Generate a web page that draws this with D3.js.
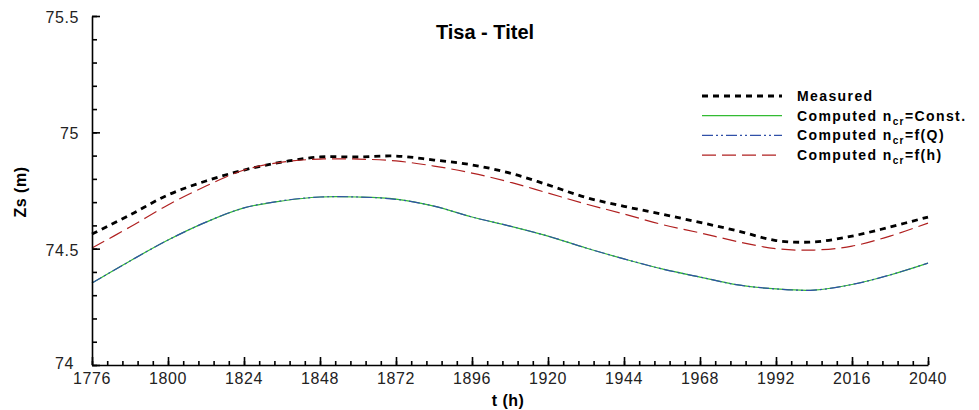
<!DOCTYPE html>
<meta charset="utf-8">
<title>Tisa - Titel</title>
<style>

body {
  margin: 0;
  background: #fff;
}

text {
  font-family: Arial, "Liberation Sans", sans-serif;
}

.tick-label {
  font-size: 16px;
  fill: #222;
  letter-spacing: 0.6px;
}

.legend text {
  font-size: 14px;
  font-weight: bold;
  letter-spacing: 1.4px;
}

</style>
<body>
<script src="https://d3js.org/d3.v7.min.js"></script>
<script>

// time (h), one point every 12 h
var hours = d3.range(23).map(function(i) { return 1776 + i * 12; });

var measured = [74.563, 74.645, 74.731, 74.791, 74.838, 74.872, 74.894, 74.894, 74.898, 74.881,
  74.860, 74.825, 74.774, 74.720, 74.682, 74.648, 74.613, 74.576, 74.535, 74.529, 74.554, 74.593, 74.636];

var nConst = [74.352, 74.447, 74.537, 74.614, 74.675, 74.705, 74.722, 74.722, 74.713, 74.683,
  74.636, 74.597, 74.554, 74.503, 74.456, 74.413, 74.378, 74.344, 74.327, 74.322, 74.346, 74.387, 74.438];

var nQ = [74.352, 74.447, 74.537, 74.614, 74.675, 74.706, 74.722, 74.722, 74.712, 74.683,
  74.636, 74.597, 74.554, 74.503, 74.456, 74.413, 74.378, 74.344, 74.327, 74.322, 74.346, 74.387, 74.438];

var nH = [74.503, 74.593, 74.688, 74.769, 74.838, 74.872, 74.885, 74.885, 74.877, 74.855,
  74.825, 74.786, 74.739, 74.692, 74.649, 74.604, 74.568, 74.530, 74.500, 74.494, 74.511, 74.554, 74.610];

var xTicks = d3.range(1776, 2041, 24);
var yTicks = [74, 74.5, 75, 75.5];

var series = [
  {name: "Measured", sub: null, values: measured, color: "#000", width: 2.8, dash: "6,5"},
  {name: "Computed n", sub: "cr", rest: "=Const.", values: nConst, color: "#33bb33", width: 1.2, dash: null},
  {name: "Computed n", sub: "cr", rest: "=f(Q)", values: nQ, color: "#3050a8", width: 1.2, dash: "11,3,2,3,2,3"},
  {name: "Computed n", sub: "cr", rest: "=f(h)", values: nH, color: "#b02020", width: 1.2, dash: "14,6"}
];

var w = 979,
    h = 410;

var x = d3.scaleLinear().domain([1776, 2040]).range([92, 928]);
var y = d3.scaleLinear().domain([74, 75.5]).range([365, 16]);

var svg = d3.select("body").append("svg")
    .attr("width", w)
    .attr("height", h);

// curves
var line = d3.line()
    .x(function(d, i) { return x(hours[i]); })
    .y(function(d) { return y(d); })
    .curve(d3.curveCatmullRom.alpha(0.5));

svg.selectAll(".series")
    .data(series)
  .enter().append("path")
    .attr("class", "series")
    .attr("d", function(d) { return line(d.values); })
    .attr("fill", "none")
    .attr("stroke", function(d) { return d.color; })
    .attr("stroke-width", function(d) { return d.width; })
    .attr("stroke-dasharray", function(d) { return d.dash; });

// axes, ticks pointing inward
var xMinor = d3.range(56).map(function(i) { return 1776 + i * 4.8; });
var yMinor = d3.range(16).map(function(i) { return 74 + i * 0.1; });

svg.append("g")
    .attr("transform", "translate(0,365)")
    .call(d3.axisTop(x).tickValues(xMinor).tickSize(4).tickFormat(""))
    .call(function(g) { g.select(".domain").remove(); });

svg.append("g")
    .attr("transform", "translate(0,365)")
    .call(d3.axisTop(x).tickValues(xTicks).tickSize(8).tickSizeOuter(0).tickFormat(""));

svg.append("g")
    .attr("transform", "translate(92,0)")
    .call(d3.axisRight(y).tickValues(yMinor).tickSize(5).tickFormat(""))
    .call(function(g) { g.select(".domain").remove(); });

svg.append("g")
    .attr("transform", "translate(92,0)")
    .call(d3.axisRight(y).tickValues(yTicks).tickSize(8).tickSizeOuter(0).tickFormat(""));

svg.selectAll(".domain, .tick line")
    .attr("stroke", "#000")
    .attr("stroke-width", 1.6);

// tick labels
svg.selectAll(".xlab")
    .data(xTicks)
  .enter().append("text")
    .attr("class", "tick-label")
    .attr("x", function(d) { return x(d); })
    .attr("y", 384)
    .attr("text-anchor", "middle")
    .text(function(d) { return d; });

svg.selectAll(".ylab")
    .data(yTicks.slice(1))
  .enter().append("text")
    .attr("class", "tick-label")
    .attr("x", 79)
    .attr("y", function(d) { return y(d) + 7; })
    .attr("text-anchor", "end")
    .text(function(d) { return d; });

svg.append("text")
    .attr("class", "tick-label")
    .attr("x", 74)
    .attr("y", 369)
    .attr("text-anchor", "end")
    .text("74");

// titles
svg.append("text")
    .attr("x", 485)
    .attr("y", 39)
    .attr("text-anchor", "middle")
    .style("font-size", "20px")
    .style("font-weight", "bold")
    .text("Tisa - Titel");

svg.append("text")
    .attr("x", 508)
    .attr("y", 406)
    .attr("text-anchor", "middle")
    .style("font-size", "16px")
    .style("font-weight", "bold")
    .style("letter-spacing", "0.5px")
    .text("t (h)");

svg.append("text")
    .attr("transform", "translate(26,192) rotate(-90)")
    .attr("text-anchor", "middle")
    .style("font-size", "16px")
    .style("font-weight", "bold")
    .style("letter-spacing", "0.5px")
    .text("Zs (m)");

// legend
var legend = svg.append("g")
    .attr("class", "legend")
    .selectAll("g")
    .data(series)
  .enter().append("g")
    .attr("transform", function(d, i) { return "translate(0," + (96 + i * 19.7) + ")"; });

legend.append("line")
    .attr("x1", 702)
    .attr("x2", 782)
    .attr("stroke", function(d) { return d.color; })
    .attr("stroke-width", function(d) { return d.width; })
    .attr("stroke-dasharray", function(d) { return d.dash; });

var lt = legend.append("text")
    .attr("x", 797)
    .attr("y", 5);

lt.append("tspan").text(function(d) { return d.name; });
lt.filter(function(d) { return d.sub; }).append("tspan")
    .attr("dy", 4)
    .style("font-size", "10px")
    .text(function(d) { return d.sub; });
lt.filter(function(d) { return d.sub; }).append("tspan")
    .attr("dy", -4)
    .text(function(d) { return d.rest; });

</script>
